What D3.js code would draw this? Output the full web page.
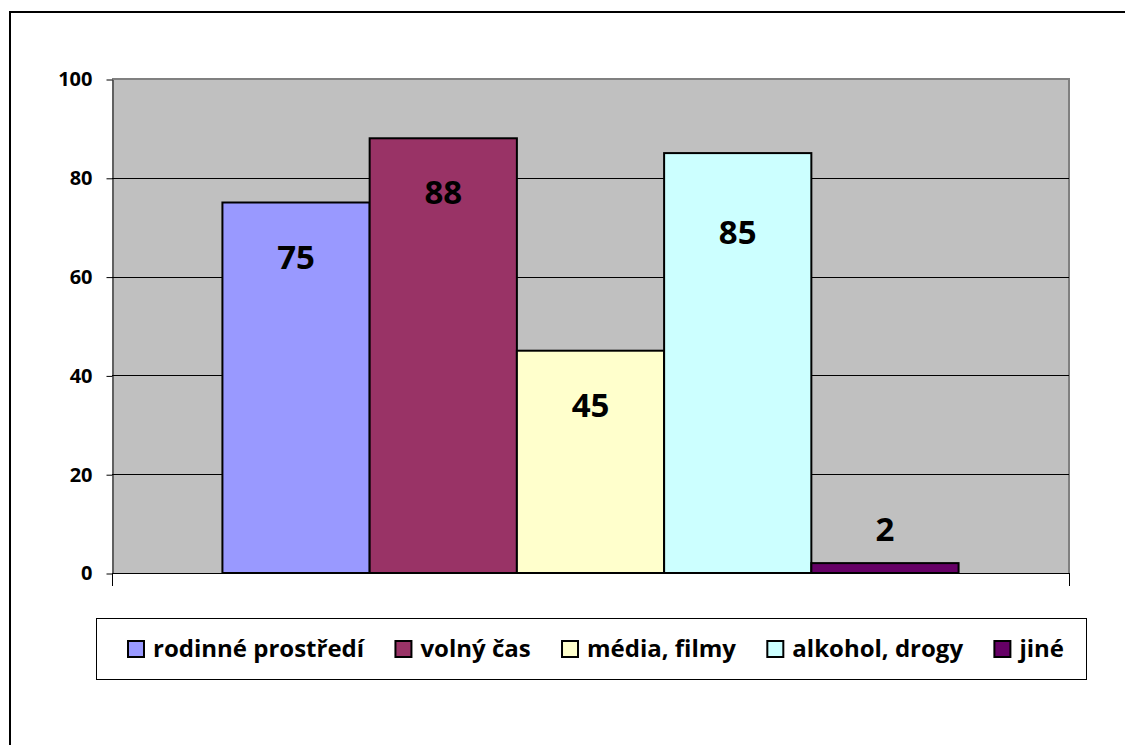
<!DOCTYPE html>
<html>
<head>
<meta charset="utf-8">
<script src="https://cdn.jsdelivr.net/npm/d3@7"></script>
<style>
  body { margin: 0; background: #fff; }
  svg { display: block; font-family: "Open Sans", sans-serif; font-weight: 700; }
</style>
</head>
<body>
<svg id="chart" width="1125" height="745"></svg>
<script>
// data
var seriesNames = ['rodinné prostředí', 'volný čas', 'média, filmy', 'alkohol, drogy', 'jiné'];
var seriesValues = [75, 88, 45, 85, 2];
var seriesColors = ['#9999FF', '#993366', '#FFFFCC', '#CCFFFF', '#660066'];
var yTicks = [0, 20, 40, 60, 80, 100];

// label drop below bar top (the 85 label sits lower in the original)
var labelDrop = [66, 66, 66, 91, 66];

var svg = d3.select('#chart');

// outer chart frame, runs off the right and bottom edge
svg.append('rect')
    .attr('x', 10).attr('y', 12)
    .attr('width', 1200).attr('height', 800)
    .attr('fill', 'none')
    .attr('stroke', '#000')
    .attr('stroke-width', 2);

var plot = {left: 112, right: 1069, top: 79, bottom: 573};

var y = d3.scaleLinear()
    .domain([0, 100])
    .range([plot.bottom, plot.top]);

var x = d3.scaleBand()
    .domain(seriesNames)
    .range([plot.left, plot.right])
    .paddingInner(0)
    .paddingOuter(0.75);

// plot area background
svg.append('rect')
    .attr('x', plot.left).attr('y', plot.top)
    .attr('width', plot.right - plot.left)
    .attr('height', plot.bottom - plot.top)
    .attr('fill', '#C0C0C0');

// gray border top + right
svg.append('path')
    .attr('d', 'M' + plot.left + ',' + plot.top + 'H' + plot.right + 'V' + plot.bottom)
    .attr('fill', 'none')
    .attr('stroke', '#808080')
    .attr('stroke-width', 2);

// gridlines
svg.append('g')
    .selectAll('line')
    .data(yTicks.filter(function(d){ return d > 0 && d < 100; }))
    .enter().append('line')
        .attr('x1', plot.left).attr('x2', plot.right)
        .attr('y1', function(d){ return Math.round(y(d)) + 0.5; })
        .attr('y2', function(d){ return Math.round(y(d)) + 0.5; })
        .attr('stroke', '#000')
        .attr('stroke-width', 1);

// y axis
var yAxis = d3.axisLeft(y)
    .tickValues(yTicks)
    .tickSize(6)
    .tickPadding(14)
    .tickSizeOuter(0);

var gy = svg.append('g')
    .attr('transform', 'translate(' + (plot.left + 0.5) + ',0.5)')
    .call(yAxis);
gy.select('.domain').attr('stroke', '#000');
gy.selectAll('.tick line').attr('stroke', '#000');
gy.selectAll('.tick text')
    .attr('fill', '#000')
    .style('font-size', '20px')
    .style('font-weight', '700')
    .style('font-family', '"Open Sans", sans-serif');

// category axis (single category)
var gx = svg.append('g');
gx.append('line')
    .attr('x1', plot.left).attr('x2', plot.right)
    .attr('y1', plot.bottom + 0.5).attr('y2', plot.bottom + 0.5)
    .attr('stroke', '#000');
gx.selectAll('.cat-tick')
    .data([plot.left, plot.right])
    .enter().append('line')
        .attr('class', 'cat-tick')
        .attr('x1', function(d){ return d + 0.5; })
        .attr('x2', function(d){ return d + 0.5; })
        .attr('y1', plot.bottom)
        .attr('y2', plot.bottom + 13)
        .attr('stroke', '#000');

// bars
svg.append('g')
    .selectAll('rect')
    .data(seriesValues)
    .enter().append('rect')
        .attr('x', function(d, i){ return x(seriesNames[i]); })
        .attr('y', function(d){ return y(d); })
        .attr('width', x.bandwidth())
        .attr('height', function(d){ return y(0) - y(d); })
        .attr('fill', function(d, i){ return seriesColors[i]; })
        .attr('stroke', '#000')
        .attr('stroke-width', 2);

// value labels
svg.append('g')
    .selectAll('text')
    .data(seriesValues)
    .enter().append('text')
        .attr('x', function(d, i){ return x(seriesNames[i]) + x.bandwidth() / 2; })
        .attr('y', function(d, i){
            var h = y(0) - y(d);
            return h > 60 ? y(d) + labelDrop[i] : y(d) - 22;
        })
        .attr('text-anchor', 'middle')
        .style('font-size', '33px')
        .attr('fill', '#000')
        .text(function(d){ return d; });

// legend
var legendBox = {x: 96.5, y: 618.5, w: 990, h: 61};
svg.append('rect')
    .attr('x', legendBox.x).attr('y', legendBox.y)
    .attr('width', legendBox.w).attr('height', legendBox.h)
    .attr('fill', '#fff')
    .attr('stroke', '#000')
    .attr('stroke-width', 1);

var legend = svg.append('g');
var items = legend.selectAll('g')
    .data(seriesNames)
    .enter().append('g');

items.append('rect')
    .attr('width', 16).attr('height', 16)
    .attr('y', 641)
    .attr('fill', function(d, i){ return seriesColors[i]; })
    .attr('stroke', '#000')
    .attr('stroke-width', 2);

items.append('text')
    .attr('x', 25)
    .attr('y', 657)
    .style('font-size', '24px')
    .attr('fill', '#000')
    .text(function(d){ return d; });

// spread items between first swatch and end of last label
var widths = [];
items.select('text').each(function(){ widths.push(25 + this.getComputedTextLength()); });
var spanStart = 128, spanEnd = 1064;
var gap = (spanEnd - spanStart - d3.sum(widths)) / (widths.length - 1);
var cx = spanStart;
items.each(function(d, i){
    d3.select(this).attr('transform', 'translate(' + cx + ',0)');
    cx += widths[i] + gap;
});
</script>
</body>
</html>
